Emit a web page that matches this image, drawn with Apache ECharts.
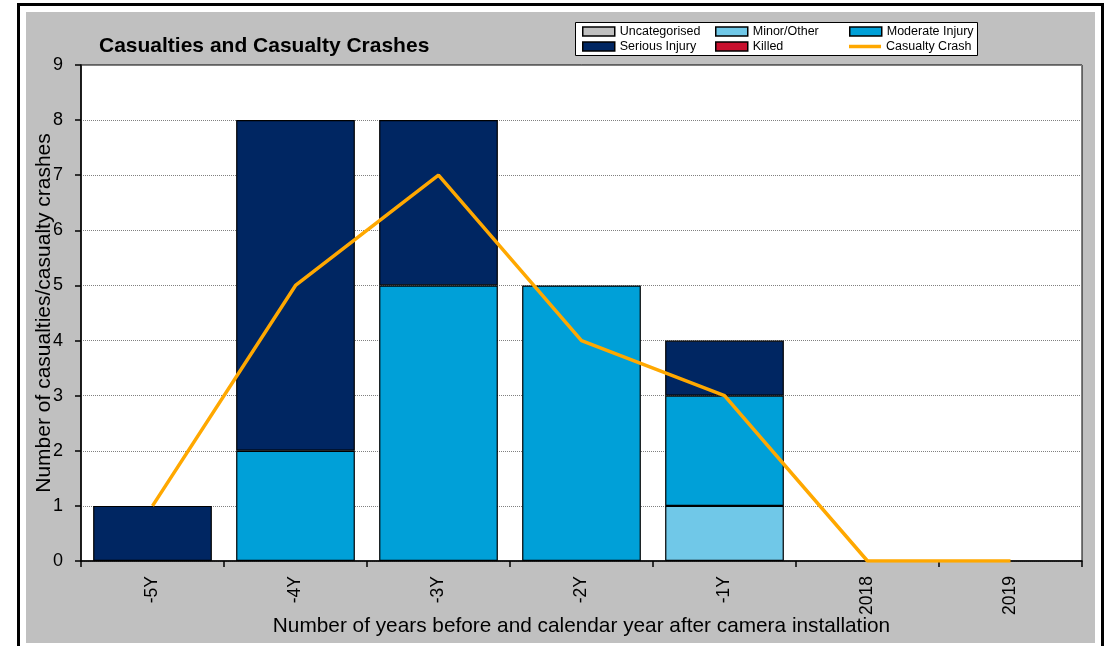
<!DOCTYPE html>
<html>
<head>
<meta charset="utf-8">
<script src="https://cdn.jsdelivr.net/npm/echarts@6/dist/echarts.min.js"></script>
<style>
html,body{margin:0;padding:0;background:#fff;}
#chart{width:1108px;height:646px;}
</style>
</head>
<body>
<div id="chart"></div>
<script>
const categories = ['-5Y', '-4Y', '-3Y', '-2Y', '-1Y', '2018', '2019'];
const uncategorised = [0, 0, 0, 0, 0, 0, 0];
const minorOther = [0, 0, 0, 0, 1, 0, 0];
const moderateInjury = [0, 2, 5, 5, 2, 0, 0];
const seriousInjury = [1, 6, 3, 0, 1, 0, 0];
const killed = [0, 0, 0, 0, 0, 0, 0];
const casualtyCrash = [1, 5, 7, 4, 3, 0, 0];
const yTicks = [0, 1, 2, 3, 4, 5, 6, 7, 8, 9];

const FONT = '"Liberation Sans", Arial, sans-serif';
const chart = echarts.init(document.getElementById('chart'), null, {renderer: 'canvas'});

function barSeries(name, data, color) {
  return {
    name: name, type: 'bar', stack: 'total',
    data: data.map(function (v) { return v === 0 ? '-' : v; }),
    barCategoryGap: '17%',
    itemStyle: {color: color, borderColor: '#000', borderWidth: 1.2},
    emphasis: {disabled: true}
  };
}

const legendCols = [582, 715, 849];
const legendRows = [25, 40];
const legendNames = [['Uncategorised', 'Minor/Other', 'Moderate Injury'], ['Serious Injury', 'Killed', 'Casualty Crash']];
const legends = [];
legendNames.forEach(function (row, r) {
  row.forEach(function (nm, c) {
    const item = nm === 'Casualty Crash'
      ? {name: nm, icon: 'path://M0,0 L32,0 L32,3.5 L0,3.5 Z'}
      : {name: nm, icon: 'rect'};
    legends.push({
      data: [item], left: legendCols[c], top: legendRows[r],
      itemWidth: 32, itemHeight: 9, padding: 0, z: 5, selectedMode: false,
      itemStyle: nm === 'Casualty Crash' ? {borderWidth: 0} : {borderColor: '#000', borderWidth: 1.5},
      textStyle: {fontFamily: FONT, fontSize: 12.5, color: '#000'}
    });
  });
});

const option = {
  animation: false,
  backgroundColor: '#fff',
  graphic: [
    {type: 'rect', z: -10, shape: {x: 18.5, y: 4.5, width: 1084, height: 660}, style: {fill: '#fff', stroke: '#000', lineWidth: 3}},
    {type: 'rect', z: -9, shape: {x: 26, y: 12, width: 1069, height: 631}, style: {fill: '#c0c0c0'}},
    {type: 'rect', z: -8, shape: {x: 81, y: 65, width: 1001, height: 496}, style: {fill: '#fff', stroke: '#000', lineWidth: 1}},
    {type: 'rect', z: 1, shape: {x: 575.5, y: 22.5, width: 402, height: 33}, style: {fill: '#fff', stroke: '#000', lineWidth: 1}}
  ],
  title: {
    text: 'Casualties and Casualty Crashes',
    left: 94, top: 31,
    textStyle: {fontFamily: FONT, fontSize: 21, fontWeight: 'bold', color: '#000'}
  },
  legend: legends,
  grid: {left: 81, top: 65, width: 1001, height: 496, containLabel: false},
  xAxis: {
    type: 'category', data: categories,
    boundaryGap: true,
    name: 'Number of years before and calendar year after camera installation',
    nameLocation: 'middle', nameGap: 55, nameMoveOverlap: false,
    nameTextStyle: {fontFamily: FONT, fontSize: 20.8, color: '#000'},
    axisLine: {lineStyle: {color: '#000', width: 1.5}},
    axisTick: {show: true, length: 6, lineStyle: {color: '#000', width: 1.5}, alignWithLabel: false},
    axisLabel: {rotate: 90, fontFamily: FONT, fontSize: 17.5, color: '#000', margin: 15}
  },
  yAxis: {
    type: 'value', min: 0, max: 9, interval: 1,
    name: 'Number of casualties/casualty crashes',
    nameLocation: 'middle', nameGap: 26, nameMoveOverlap: false,
    nameTextStyle: {fontFamily: FONT, fontSize: 21, color: '#000'},
    axisLine: {show: true, lineStyle: {color: '#000', width: 1.5}},
    axisTick: {show: true, length: 6, lineStyle: {color: '#000', width: 1.5}},
    axisLabel: {fontFamily: FONT, fontSize: 18, color: '#000', margin: 18,
      formatter: function (v) { return yTicks.indexOf(v) >= 0 ? String(v) : ''; }},
    splitLine: {show: true, lineStyle: {color: '#808080', type: 'dotted', width: 1}}
  },
  series: [
    barSeries('Uncategorised', uncategorised, '#c0c0c0'),
    barSeries('Minor/Other', minorOther, '#70c8e8'),
    barSeries('Moderate Injury', moderateInjury, '#00a0d8'),
    barSeries('Serious Injury', seriousInjury, '#002662'),
    barSeries('Killed', killed, '#c8102e'),
    {
      name: 'Casualty Crash', type: 'line', data: casualtyCrash,
      symbol: 'none', z: 10,
      lineStyle: {color: '#ffa800', width: 3.5},
      itemStyle: {color: '#ffa800'},
      emphasis: {disabled: true}
    }
  ]
};
chart.setOption(option);
</script>
</body>
</html>
